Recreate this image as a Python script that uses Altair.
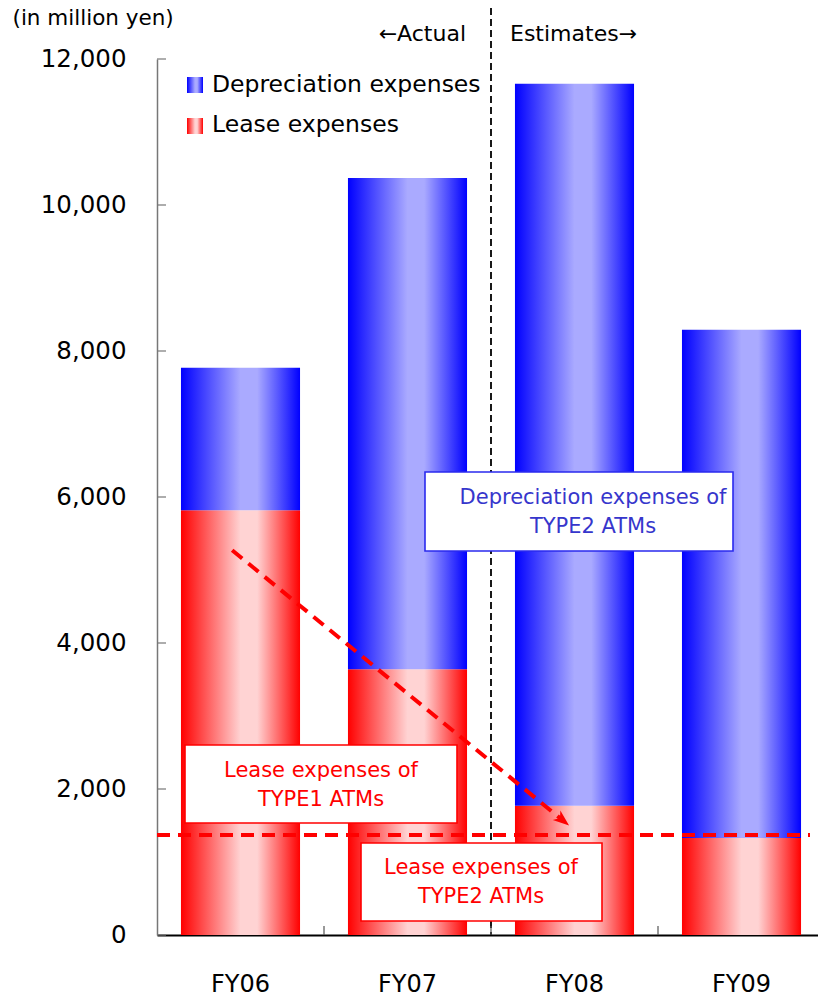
import altair as alt
import pandas as pd

# ---------------- data ----------------
years = ["FY06", "FY07", "FY08", "FY09"]
lease_expenses = [5820, 3640, 1770, 1330]
depreciation_expenses = [1950, 6730, 9890, 6960]
y_ticks = [0, 2000, 4000, 6000, 8000, 10000, 12000]
type2_lease_level = [1370]
first_estimate_year = "FY08"
trend_x = [0.45, 2.43]        # position in category steps
trend_y = [5270, 1570]
legend_labels = ["Depreciation expenses", "Lease expenses"]
box_labels = ["Depreciation expenses of\nTYPE2 ATMs",
              "Lease expenses of\nTYPE1 ATMs",
              "Lease expenses of\nTYPE2 ATMs"]
axis_title = "(in million yen)"

FONT = "DejaVu Sans"
W, RANGE_W, H = 661, 668, 876

bars = pd.DataFrame({
    "year": years,
    "lease": lease_expenses,
    "total": [a + b for a, b in zip(lease_expenses, depreciation_expenses)],
})

def grad(dark, light):
    return {
        "gradient": "linear", "x1": 0, "x2": 1, "y1": 0, "y2": 0,
        "stops": [
            {"offset": 0.0, "color": dark},
            {"offset": 0.5, "color": light},
            {"offset": 0.64, "color": light},
            {"offset": 1.0, "color": dark},
        ],
    }

BLUE = grad("#0000ff", "#aaaaff")
RED = grad("#ff0000", "#ffd3d3")

band_scale = alt.Scale(domain=years, range=[0, RANGE_W],
                       paddingInner=0.287, paddingOuter=0.1435)
xband = alt.X("year:N", sort=years, scale=band_scale,
              axis=alt.Axis(title=None, labelAngle=0, ticks=False,
                            labelFontSize=24, labelPadding=37,
                            labelColor="black", domainColor="black",
                            domainWidth=2))
yscale = alt.Scale(domain=[0, 12000], nice=False)
yaxis = alt.Axis(values=y_ticks, format=",d", labelFontSize=24.5,
                 labelPadding=31, ticks=False, grid=False,
                 domainColor="#777777", domainWidth=1.5, labelColor="black",
                 title=axis_title, titleAngle=0, titleX=-145, titleY=-41,
                 titleAlign="left", titleBaseline="middle",
                 titleFontSize=21.5, titleFontWeight="normal",
                 titleColor="black")

lease_bar = alt.Chart(bars).mark_bar(color=RED).encode(
    x=xband, y=alt.Y("lease:Q", scale=yscale, axis=yaxis))
dep_bar = alt.Chart(bars).mark_bar(color=BLUE).encode(
    x=alt.X("year:N", sort=years, scale=band_scale, axis=None),
    y=alt.Y("total:Q"), y2="lease:Q")

qx = lambda f: alt.X(f, scale=alt.Scale(domain=[0, len(years)], range=[0, RANGE_W]), axis=None)

bounds = pd.DataFrame({"pos": list(range(1, len(years)))})
x_ticks = alt.Chart(bounds).mark_rule(color="#555555", strokeWidth=1.2).encode(
    x=qx("pos:Q"), y=alt.value(H - 9), y2=alt.value(H))

ytick_df = pd.DataFrame({"t": y_ticks})
y_tick_marks = alt.Chart(ytick_df).mark_rule(color="#777777", strokeWidth=1.2).encode(
    y=alt.Y("t:Q"), x=alt.value(0), x2=alt.value(9))

split_df = pd.DataFrame({"pos": [years.index(first_estimate_year)]})
split_line = alt.Chart(split_df).mark_rule(color="black", strokeDash=[7, 4],
                                           strokeWidth=1.8).encode(
    x=qx("pos:Q"), y=alt.value(-51), y2=alt.value(H))

hline = alt.Chart(pd.DataFrame({"v": type2_lease_level})).mark_rule(
    color="#ff0000", strokeDash=[13, 8], strokeWidth=4).encode(
    y=alt.Y("v:Q"), x=alt.value(0), x2=alt.value(653))

trend_df = pd.DataFrame({"ax": trend_x, "ay": trend_y, "o": [0, 1]})
trend = alt.Chart(trend_df).mark_line(color="#ff0000", strokeDash=[13, 8],
                                      strokeWidth=4).encode(
    x=qx("ax:Q"), y=alt.Y("ay:Q"), order="o:Q")
head = alt.Chart(trend_df.tail(1)).mark_point(
    shape="M1,0 L-1,-0.75 L-0.45,0 L-1,0.75 Z", filled=True, size=260,
    angle=39, color="#ff0000", opacity=1).encode(x=qx("ax:Q"), y=alt.Y("ay:Q"))

one = pd.DataFrame({"a": [0]})

def text(s, x, y, align, size, color="black"):
    return alt.Chart(one).mark_text(align=align, baseline="middle", fontSize=size,
                                    font=FONT, color=color, lineBreak="\n",
                                    lineHeight=28.5).encode(
        x=alt.value(x), y=alt.value(y), text=alt.value(s))

def box(x, x2, y, y2, stroke):
    return alt.Chart(one).mark_rect(fill="white", stroke=stroke, strokeWidth=1.6).encode(
        x=alt.value(x), x2=alt.value(x2), y=alt.value(y), y2=alt.value(y2))

def swatch(y, g):
    return alt.Chart(one).mark_rect(color=g).encode(
        x=alt.value(30), x2=alt.value(46), y=alt.value(y), y2=alt.value(y + 16))

layers = [
    lease_bar, dep_bar, split_line, x_ticks, y_tick_marks,
    hline, trend, head,
    box(268, 576, 413, 492, "#2a2aee"),
    text(box_labels[0], 436, 439, "center", 21, "#3636cc"),
    box(28, 300, 686, 764, "#ff0000"),
    text(box_labels[1], 164, 712, "center", 21, "#ff0000"),
    box(204, 445, 784, 862, "#ff0000"),
    text(box_labels[2], 324, 809, "center", 21, "#ff0000"),
    swatch(18, BLUE), swatch(59, RED),
    text(legend_labels[0], 55, 26, "left", 23.5),
    text(legend_labels[1], 55, 66, "left", 23.5),
    text("←Actual", 309, -25, "right", 22),
    text("Estimates→", 353, -25, "left", 22),
]

chart = alt.layer(*layers).resolve_scale(x="independent").properties(
    width=W, height=H,
    autosize=alt.AutoSizeParams(type="none"),
    padding={"left": 157, "top": 59, "right": 0, "bottom": 62},
).configure_view(stroke=None).configure_axis(
    labelFont=FONT, titleFont=FONT)

chart.save("out.html", embed_options={"renderer": "svg", "actions": False})
